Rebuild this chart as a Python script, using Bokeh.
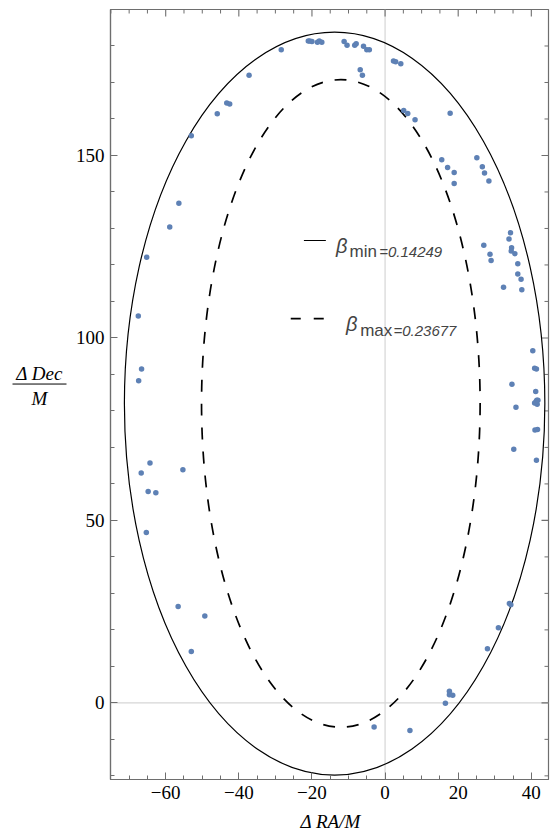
import numpy as np
from bokeh.plotting import figure
from bokeh.layouts import row, column
from bokeh.models import (Range1d, SingleIntervalTicker, LinearAxis, Span, Label,
                          CustomJSTickFormatter)
from bokeh.embed import file_html
from bokeh.resources import INLINE

# Observed image positions (Delta RA / M, Delta Dec / M)
ra = [-53.0, -45.9, -43.3, -42.5, -37.2, -28.4, -21.0, -20.6, -20.0, -18.5, -18.0, -17.3,
      -11.2, -10.4, -8.3, -7.9, -5.9, -5.0, -4.3, -6.8, -6.2, 2.3, 2.9, 4.3, 5.1, 6.2, 8.2,
      17.8, 15.5, 17.1, 18.9, 18.9, 25.1, 26.6, 27.2, 28.4, 34.3, 33.9, 27.0, 34.6, 34.5,
      35.5, 28.7, 29.0, 36.3, 36.3, 37.2, 32.4, 37.4, 40.4, 40.9, 41.4, 34.7, 41.2, 41.5,
      41.6, 41.3, 40.9, 41.8, 35.8, 41.0, 41.7, 35.2, 41.4, -56.4, -58.9, -65.2, -67.5,
      -66.6, -67.4, -64.3, -66.7, -55.3, -64.8, -62.7, -65.3, -56.6, -49.3, -53.0, -3.0,
      6.8, 16.5, 17.6, 17.6, 18.5, 28.0, 31.0, 34.0, 34.4]
dec = [155.4, 161.4, 164.4, 164.1, 172.0, 179.0, 181.4, 181.4, 181.2, 181.0, 181.4, 181.0,
       181.2, 180.2, 180.2, 180.6, 179.9, 179.0, 179.0, 173.5, 172.0, 175.9, 175.7, 175.1,
       162.3, 161.5, 159.8, 161.6, 148.8, 146.7, 145.3, 142.3, 149.4, 146.9, 145.2, 143.0,
       128.8, 127.1, 125.4, 124.7, 123.8, 123.1, 122.9, 121.2, 120.3, 117.5, 116.1, 113.9,
       113.2, 96.5, 91.7, 91.5, 87.3, 85.3, 82.9, 81.8, 82.6, 82.2, 82.9, 81.0, 74.8, 74.9,
       69.5, 66.5, 136.9, 130.4, 122.1, 106.0, 91.5, 88.3, 65.7, 63.0, 63.9, 57.9, 57.6,
       46.7, 26.4, 23.8, 14.1, -6.6, -7.6, -0.1, 3.2, 2.2, 2.1, 14.8, 20.6, 27.2, 26.9]

# Orbit ellipses: centre and semi-axes for the two beta values
beta_labels = ["min", "max"]
beta_values = ["0.14249", "0.23677"]
ellipse_cx = [-13.8, -12.1]
ellipse_cy = [82.0, 82.05]
ellipse_a = [57.5, 38.1]
ellipse_b = [101.8, 88.75]

# frame ticks
x_major = [-60, -40, -20, 0, 20, 40]
x_minor = [v for v in range(-75, 45, 5) if v not in x_major]
y_major = [0, 50, 100, 150]
y_minor = [v for v in range(-20, 191, 10) if v not in y_major]

X0, X1 = -75.1, 44.7
Y0, Y1 = -21.0, 190.0
FRAME_W, FRAME_H = 438, 770

TOTAL_H = 833
TITLE_H = 23           # strip under the plot that holds the horizontal axis title
MAIN_H = TOTAL_H - TITLE_H
LEFT_W = 70            # strip left of the plot that holds the vertical axis title

FRAME = "#6e6e6e"
POINT = "#5e81b5"
SERIF = "Liberation Serif"
SANS = "Liberation Sans"

p = figure(width=550 - LEFT_W, height=MAIN_H, output_backend="svg", toolbar_location=None,
           x_range=Range1d(X0, X1), y_range=Range1d(Y0, Y1),
           min_border_left=40, min_border_right=2, min_border_top=9,
           min_border_bottom=MAIN_H - 9 - FRAME_H,
           x_axis_location=None, y_axis_location=None)
p.grid.visible = False
p.outline_line_color = FRAME
p.outline_line_width = 1.2

fmt = CustomJSTickFormatter(code="return tick < 0 ? '\\u2212' + (-tick) : '' + tick;")


def make_axis(interval, minor):
    ax = LinearAxis(ticker=SingleIntervalTicker(interval=interval, num_minor_ticks=minor),
                    formatter=fmt)
    ax.axis_line_color = FRAME
    ax.axis_line_width = 1.2
    ax.major_tick_line_color = FRAME
    ax.minor_tick_line_color = FRAME
    ax.major_tick_in = 7
    ax.major_tick_out = 0
    ax.minor_tick_in = 4
    ax.minor_tick_out = 0
    ax.major_label_text_font = SERIF
    ax.major_label_text_color = "black"
    ax.major_label_text_font_size = "19px"
    ax.major_label_standoff = 6
    return ax


p.add_layout(make_axis(20, 4), "below")
p.add_layout(make_axis(50, 5), "left")

# inward ticks on the top and right edges of the frame
dy = (Y1 - Y0) / FRAME_H
dx = (X1 - X0) / FRAME_W
p.segment(x0=x_major, y0=[Y1] * len(x_major), x1=x_major, y1=[Y1 - 7 * dy] * len(x_major),
          line_color=FRAME, line_width=1.1)
p.segment(x0=x_minor, y0=[Y1] * len(x_minor), x1=x_minor, y1=[Y1 - 4 * dy] * len(x_minor),
          line_color=FRAME, line_width=1.0)
p.segment(x0=[X1] * len(y_major), y0=y_major, x1=[X1 - 7 * dx] * len(y_major), y1=y_major,
          line_color=FRAME, line_width=1.1)
p.segment(x0=[X1] * len(y_minor), y0=y_minor, x1=[X1 - 4 * dx] * len(y_minor), y1=y_minor,
          line_color=FRAME, line_width=1.0)

# light zero lines
p.add_layout(Span(location=0, dimension="height", line_color="#d6d6d6", line_width=1.2,
                  level="underlay"))
p.add_layout(Span(location=0, dimension="width", line_color="#d6d6d6", line_width=1.2,
                  level="underlay"))

# orbits
p.ellipse(x=[ellipse_cx[0]], y=[ellipse_cy[0]], width=[2 * ellipse_a[0]],
          height=[2 * ellipse_b[0]], fill_color=None, line_color="black", line_width=1.2)
p.ellipse(x=[ellipse_cx[1]], y=[ellipse_cy[1]], width=[2 * ellipse_a[1]],
          height=[2 * ellipse_b[1]], fill_color=None, line_color="black", line_width=1.7,
          line_dash="12 12")

# image points
p.scatter(ra, dec, size=5.5, fill_color=POINT, line_color=None)

# legend
p.line([-22.2, -16.2], [126.7, 126.7], line_color="black", line_width=1.0)
p.line([-25.8, -16.2], [105.3, 105.3], line_color="black", line_width=1.7, line_dash="10 13")

legend_rows = [(-13.4, 125.3, -9.7, -1.6, 123.7), (-10.7, 103.8, -6.8, 2.3, 102.1)]
for (bx, by, sx, vx, vy), sub, val in zip(legend_rows, beta_labels, beta_values):
    p.add_layout(Label(x=bx, y=by, text="β", text_font=SANS, text_font_style="italic",
                       text_font_size="20px", text_baseline="middle", text_align="left"))
    p.add_layout(Label(x=sx, y=vy, text=sub, text_font=SANS, text_font_size="17px",
                       text_baseline="middle", text_align="left"))
    p.add_layout(Label(x=vx, y=vy, text="=" + val, text_font=SANS, text_font_style="italic",
                       text_font_size="15px", text_baseline="middle", text_align="left"))


def strip(w, h):
    f = figure(width=w, height=h, output_backend="svg", toolbar_location=None,
               x_range=Range1d(0, w), y_range=Range1d(0, h),
               min_border=0, x_axis_location=None, y_axis_location=None)
    f.grid.visible = False
    f.outline_line_color = None
    return f


# vertical axis title, written as a fraction
t = strip(LEFT_W, MAIN_H)
t.text(x=[39, 39], y=[MAIN_H - 383, MAIN_H - 409], text=["Δ Dec", "M"],
       text_font=SERIF, text_font_style="italic", text_font_size="19px",
       text_align="center", text_baseline="middle", text_color="black")
t.line([12, 66], [MAIN_H - 394, MAIN_H - 394], line_color="black", line_width=1.0)

# horizontal axis title
b = strip(550, TITLE_H)
b.text(x=[330], y=[TITLE_H - 11], text=["Δ RA/M"],
       text_font=SERIF, text_font_style="italic", text_font_size="19px",
       text_align="center", text_baseline="middle", text_color="black")

layout = column(row(t, p), b)
open("out.html", "w").write(file_html(layout, INLINE))
